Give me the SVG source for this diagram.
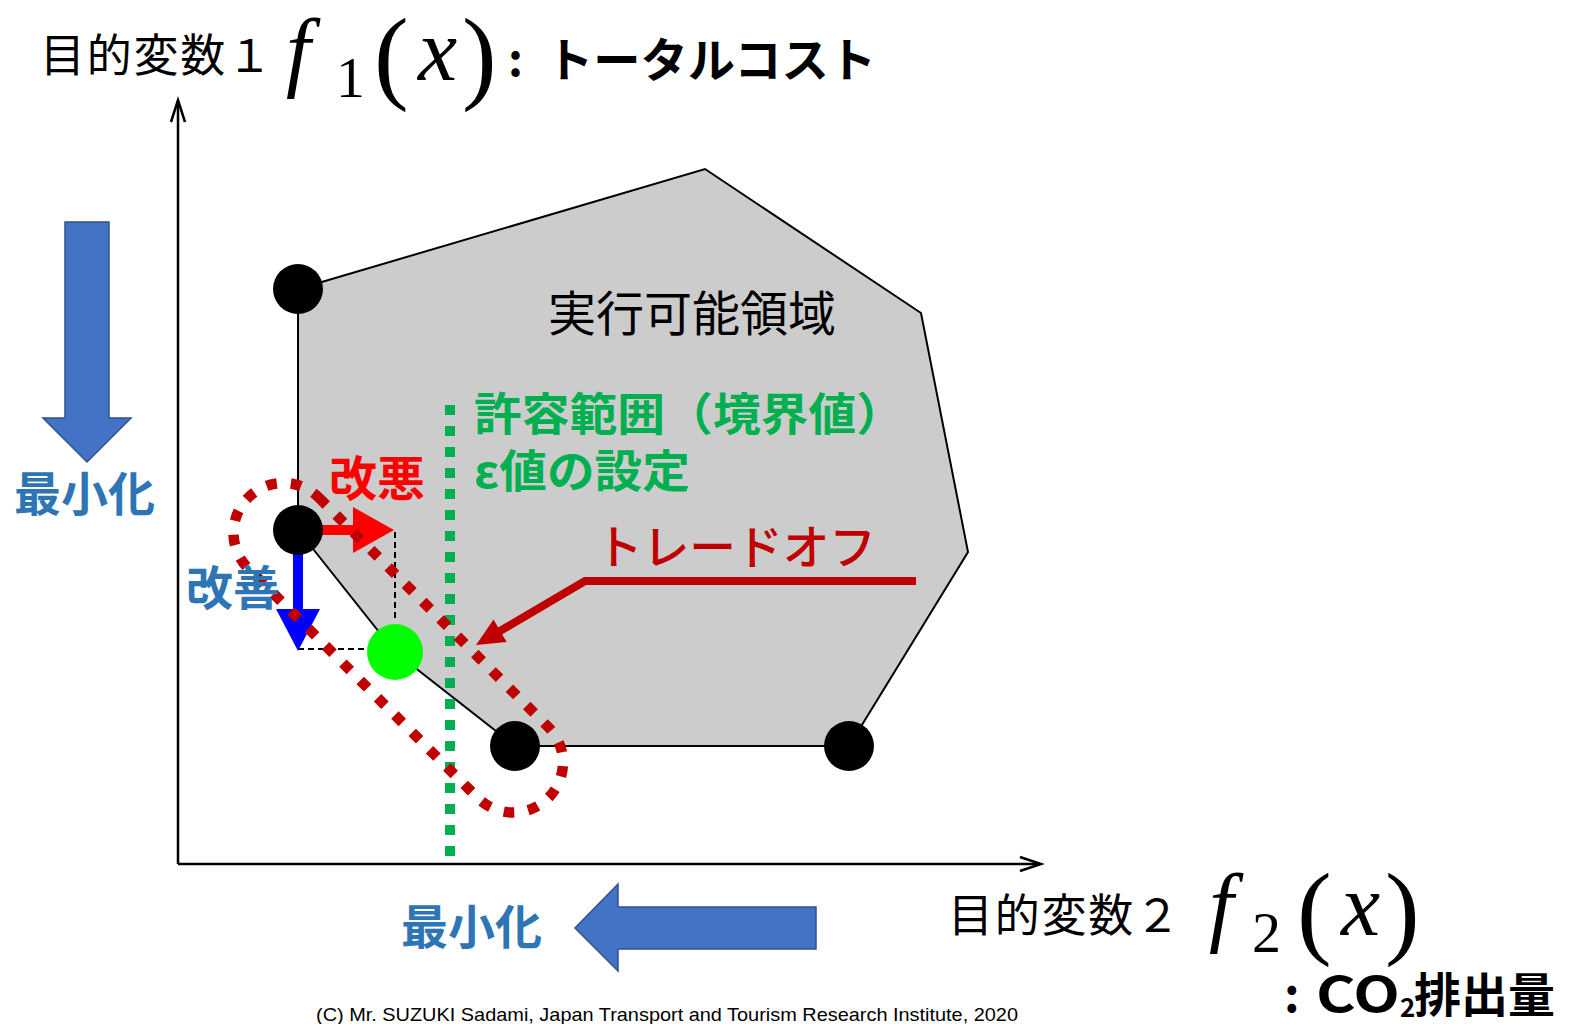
<svg xmlns="http://www.w3.org/2000/svg" width="1572" height="1024" viewBox="0 0 1572 1024">
<style>
.jp{font-family:"Noto Sans CJK JP","Noto Sans",sans-serif}
.b{font-weight:bold}
.math{font-family:"Liberation Serif","DejaVu Serif",serif}
.it{font-style:italic}
.axis{fill:none;stroke:#000;stroke-width:2.5}
.dot{fill:#000}
.blk{fill:#4472C4;stroke:#2F528F;stroke-width:1.5}
.dash{fill:none;stroke:#000;stroke-width:2;stroke-dasharray:6 4}
</style>
<rect width="1572" height="1024" fill="#fff"/>

<g id="feasible-region">
<polygon points="298,289 705,169 921,313 968,552 849,746 515,746 395,652 298,530" fill="#CCCCCC" stroke="#000" stroke-width="2"/>
</g>

<g id="connectors">
<g id="axes">
<line class="axis" x1="178" y1="864" x2="178" y2="101"/>
<polyline class="axis" points="171,122 178,100 185,122"/>
<line class="axis" x1="178" y1="864" x2="1040" y2="864"/>
<polyline class="axis" points="1020,857 1041,864 1020,871"/>
</g>
<line class="dash" x1="395" y1="532" x2="395" y2="618"/>
<line class="dash" x1="298" y1="649" x2="365" y2="649"/>
<g id="worse-arrow">
<line x1="298" y1="530" x2="356" y2="530" stroke="#FF0000" stroke-width="10"/>
<polygon points="353,507 394,530 353,553" fill="#FF0000"/>
</g>
<g id="better-arrow">
<line x1="298" y1="530" x2="298" y2="611" stroke="#0000FF" stroke-width="10"/>
<polygon points="276,609 320,609 298,651" fill="#0000FF"/>
</g>
<g id="tradeoff-arrow">
<polyline points="916,581 585,581 500,631" fill="none" stroke="#C00000" stroke-width="8" stroke-linejoin="miter"/>
<polygon points="476,645 493.5,619.6 506.7,642" fill="#C00000"/>
</g>
<g id="epsilon-line">
<line x1="450" y1="405" x2="450" y2="858" stroke="#00B050" stroke-width="10" stroke-dasharray="10 11"/>
</g>
<g id="tradeoff-set">
<rect x="-212.3" y="-50" width="424.6" height="100" rx="50" transform="translate(398.25,647.75) rotate(45)" fill="none" stroke="#C00000" stroke-width="10.5" stroke-dasharray="10.5 14"/>
</g>
</g>

<g id="point-top"><circle class="dot" cx="298" cy="289" r="25"/></g>
<g id="point-left"><circle class="dot" cx="298" cy="530" r="25"/></g>
<g id="point-bottom"><circle class="dot" cx="515" cy="746" r="25"/></g>
<g id="point-right"><circle class="dot" cx="849" cy="746" r="25"/></g>
<g id="point-green"><circle cx="395" cy="652" r="28" fill="#00FF00"/></g>

<g id="arrow-left-min">
<polygon class="blk" points="65,222 109,222 109,418 131,418 87,462 43,418 65,418"/>
<text class="jp b" x="14" y="511" font-size="47" fill="#2E75B6">最小化</text>
</g>
<g id="arrow-bottom-min">
<polygon class="blk" points="816,907 816,949 618,949 618,971 575,928 618,884 618,907"/>
<text class="jp b" x="401" y="944" font-size="47" fill="#2E75B6">最小化</text>
</g>

<g id="label-y">
<text class="jp" x="40" y="72" font-size="45" fill="#000" textLength="232" lengthAdjust="spacing">目的変数１</text>
<text class="math it" x="286" y="80" font-size="88">f</text>
<text class="math" x="336" y="97" font-size="58">1</text>
<text class="math" x="374" y="90" font-size="104">(</text>
<text class="math it" x="418" y="80" font-size="88">x</text>
<text class="math" x="462" y="90" font-size="104">)</text>
<text class="jp b" x="508" y="76" font-size="46">:</text>
<text class="jp b" x="546" y="77" font-size="47" textLength="330" lengthAdjust="spacingAndGlyphs">トータルコスト</text>
</g>

<g id="label-x">
<text class="jp" x="948" y="932" font-size="45" fill="#000" textLength="232" lengthAdjust="spacing">目的変数２</text>
<text class="math it" x="1209" y="935" font-size="88">f</text>
<text class="math" x="1252" y="952" font-size="58">2</text>
<text class="math" x="1297" y="945" font-size="104">(</text>
<text class="math it" x="1341" y="935" font-size="88">x</text>
<text class="math" x="1385" y="945" font-size="104">)</text>
<text class="jp b" x="1284" y="1012" font-size="48">:</text>
<text class="jp b" x="1316" y="1012" font-size="48" textLength="84" lengthAdjust="spacingAndGlyphs">CO</text>
<text class="jp b" x="1400" y="1017" font-size="26">2</text>
<text class="jp b" x="1414" y="1012" font-size="47">排出量</text>
</g>

<g id="label-region">
<text class="jp" x="548" y="331" font-size="48" fill="#000">実行可能領域</text>
</g>
<g id="label-epsilon">
<text class="jp b" x="474" y="431" font-size="45" fill="#00B050" textLength="430" lengthAdjust="spacingAndGlyphs">許容範囲（境界値）</text>
<text class="jp b" x="474" y="488" font-size="45" fill="#00B050" textLength="216" lengthAdjust="spacingAndGlyphs">ε値の設定</text>
</g>
<g id="label-tradeoff">
<text class="jp" x="596" y="564" font-size="47" font-weight="500" fill="#C00000" textLength="280" lengthAdjust="spacingAndGlyphs">トレードオフ</text>
</g>
<g id="label-worse">
<text class="jp b" x="329" y="496" font-size="48" fill="#FF0000">改悪</text>
</g>
<g id="label-better">
<text class="jp b" x="186" y="605" font-size="47" fill="#2E75B6">改善</text>
</g>

<text x="316" y="1021" font-family="'Liberation Sans',Arial,sans-serif" font-size="19" textLength="702" lengthAdjust="spacingAndGlyphs" fill="#000">(C) Mr. SUZUKI Sadami, Japan Transport and Tourism Research Institute, 2020</text>
</svg>
